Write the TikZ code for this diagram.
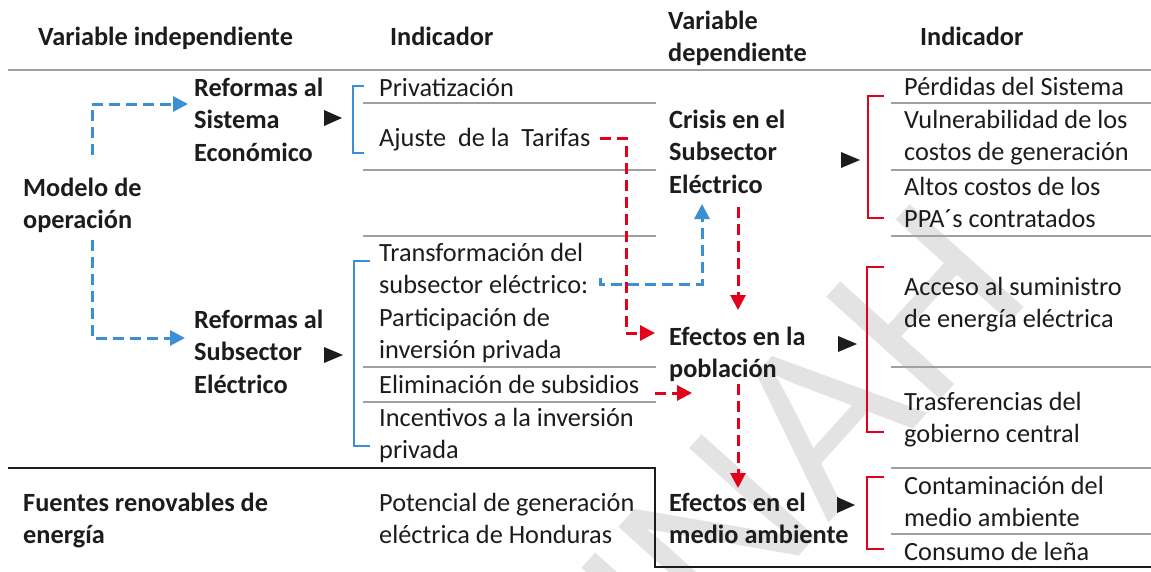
\documentclass[tikz,border=0pt]{standalone}
\usepackage{fontspec}
\setmainfont{Carlito}
\newfontfamily\wmfont{Liberation Sans}
\usetikzlibrary{arrows.meta}
\definecolor{lblue}{HTML}{3D8FD5}
\definecolor{lred}{HTML}{E2001A}
\definecolor{rulegray}{HTML}{A0A0A0}
\definecolor{ink}{HTML}{1C1C1C}
\definecolor{wmgray}{HTML}{E3E3E3}
\begin{document}
\begin{tikzpicture}[x=1pt,y=-1pt,
  txt/.style={inner sep=0pt, anchor=base west, align=left, text=ink, font=\fontsize{26.3}{32.4}\selectfont},
  btxt/.style={txt, font=\fontsize{26.3}{32.4}\selectfont\bfseries},
  tablerule/.style={draw=rulegray, line width=1.3pt},
  boxrule/.style={draw=ink, line width=1.4pt},
  bluebr/.style={draw=lblue, line width=2.8pt},
  redbr/.style={draw=lred, line width=2.8pt},
  bluearrow/.style={draw=lblue, line width=3pt, dash pattern=on 11pt off 6pt, -{Triangle[length=15pt,width=15pt]}},
  redarrow/.style={draw=lred, line width=3pt, dash pattern=on 11pt off 6pt, -{Triangle[length=15pt,width=15pt]}},
  tri/.style={fill=ink},
  wm/.style={inner sep=0pt, anchor=base west, rotate=48, text=wmgray, font=\wmfont\fontsize{223}{223}\selectfont}
]
\useasboundingbox (0,0) rectangle (1151,571);
\fill[white] (0,0) rectangle (1151,571);

% watermark
\begin{scope}
\clip (0,0) rectangle (1151,571);
\node[wm] (wmk) at (613,763) {UNAH};
\end{scope}

% headers (anchor = baseline of last line)
\node[btxt] (h1) at (38,45) {Variable independiente};
\node[btxt] (h2) at (390,45) {Indicador};
\node[btxt] (h3) at (668,61.4) {Variable\\dependiente};
\node[btxt] (h4) at (920,45) {Indicador};

% table rules
\draw[tablerule] (8,70) -- (1151,70);
\foreach \yy in {103,170,236,367,402} \draw[tablerule] (363,\yy) -- (656,\yy);
\foreach \yy in {103,170,236,367,468,534} \draw[tablerule] (891,\yy) -- (1151,\yy);
\draw[boxrule] (8,468) -- (655,468) -- (655,567) -- (1151,567);

% texts
\node[btxt] (rse) at (194,161.3) {Reformas al\\Sistema\\Económico};
\node[txt] (priv) at (379,96.5) {Privatización};
\node[txt] (ajus) at (379,146.5) {Ajuste\ \ de la\ \ Tarifas};
\node[btxt] (mod) at (23,228.4) {Modelo de\\operación};
\node[btxt] (crisis) at (669,193.3) {Crisis en el\\Subsector\\Eléctrico};
\node[txt] (perd) at (904,95.5) {Pérdidas del Sistema};
\node[txt] (vuln) at (904,160.9) {Vulnerabilidad de los\\costos de generación};
\node[txt] (altos) at (904,227.9) {Altos costos de los\\PPA´s contratados};
\node[txt] (trans) at (379,358.7) {Transformación del\\subsector eléctrico:\\Participación de\\inversión privada};
\node[btxt] (rsub) at (194,393.3) {Reformas al\\Subsector\\Eléctrico};
\node[txt] (elim) at (379,393.5) {Eliminación de subsidios};
\node[txt] (inc) at (379,458.9) {Incentivos a la inversión\\privada};
\node[btxt] (pob) at (669,377.9) {Efectos en la\\población};
\node[txt] (acc) at (904,327.9) {Acceso al suministro\\de energía eléctrica};
\node[txt] (tras) at (904,442.9) {Trasferencias del\\gobierno central};
\node[btxt] (fue) at (23,543.9) {Fuentes renovables de\\energía};
\node[txt] (pot) at (379,543.9) {Potencial de generación\\eléctrica de Honduras};
\node[btxt] (amb) at (669,543.9) {Efectos en el\\medio ambiente};
\node[txt] (cont) at (904,526.9) {Contaminación del\\medio ambiente};
\node[txt] (cons) at (904,560.5) {Consumo de leña};

% black triangles
\fill[tri] (324,110) -- (342,118) -- (324,126) -- cycle;
\fill[tri] (324,347) -- (343,355) -- (324,363) -- cycle;
\fill[tri] (841,152) -- (860,160) -- (841,168) -- cycle;
\fill[tri] (838,336) -- (857,344) -- (838,352) -- cycle;
\fill[tri] (837,497) -- (855,505) -- (837,513) -- cycle;

% brackets
\draw[bluebr] (364,86) -- (353,86) -- (353,153) -- (364,153);
\draw[bluebr] (370,261) -- (354,261) -- (354,446) -- (370,446);
\draw[redbr] (884,96) -- (868,96) -- (868,218) -- (884,218);
\draw[redbr] (884,267) -- (867,267) -- (867,432) -- (884,432);
\draw[redbr] (884,477) -- (867,477) -- (867,549) -- (884,549);

% connector end points
\coordinate (b1s) at (92,155);
\coordinate (b1e) at (188,104);
\coordinate (b2s) at (92,240);
\coordinate (b2e) at (185,338);
\coordinate (b3s) at (600,278);
\coordinate (b3m) at (600,284);
\coordinate (b3e) at (702,204);
\coordinate (r1s) at (600,138);
\coordinate (r1m) at (626,138);
\coordinate (r1e) at (655,333);
\coordinate (r2s) at (738,207);
\coordinate (r2e) at (738,310);
\coordinate (r3s) at (655,393);
\coordinate (r3e) at (692,393);
\coordinate (r4s) at (738,384);
\coordinate (r4e) at (738,488);

% dashed connectors
\draw[bluearrow] (b1s) |- (b1e);
\draw[bluearrow] (b2s) |- (b2e);
\draw[bluearrow] (b3s) -- (b3m) -| (b3e);
\draw[redarrow] (r1s) -- (r1m) |- (r1e);
\draw[redarrow] (r2s) -- (r2e);
\draw[redarrow] (r3s) -- (r3e);
\draw[redarrow] (r4s) -- (r4e);
\end{tikzpicture}
\end{document}
